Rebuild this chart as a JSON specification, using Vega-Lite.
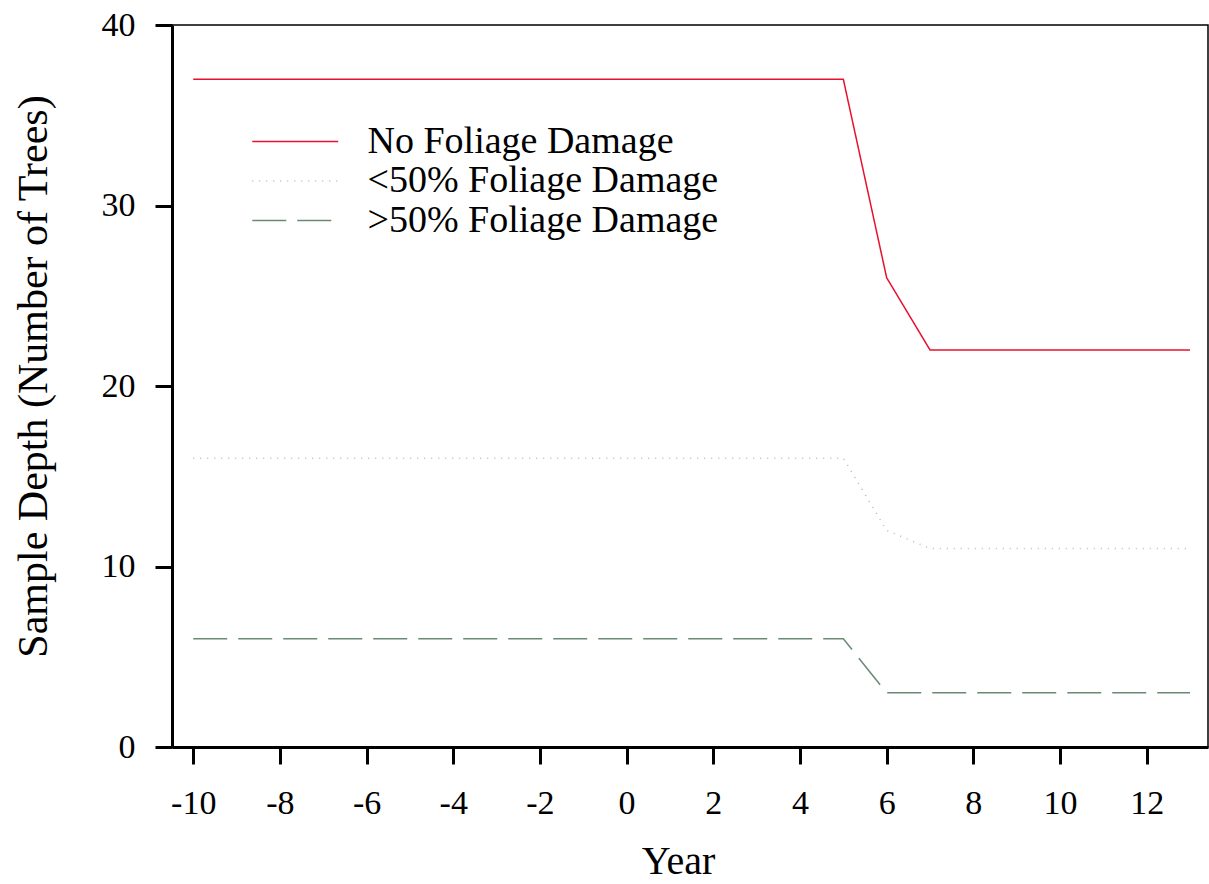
{
  "$schema": "https://vega.github.io/schema/vega-lite/v6.json",
  "width": 1036,
  "height": 722,
  "autosize": {"type": "none"},
  "padding": {"left": 172, "top": 25, "right": 1, "bottom": 137},
  "config": {
    "font": "Liberation Serif",
    "view": {"stroke": "#000000", "strokeWidth": 1.5},
    "background": "#ffffff"
  },
  "datasets": {
    "series": [
      {"year": -10, "group": "No Foliage Damage", "trees": 37},
      {"year": -9, "group": "No Foliage Damage", "trees": 37},
      {"year": -8, "group": "No Foliage Damage", "trees": 37},
      {"year": -7, "group": "No Foliage Damage", "trees": 37},
      {"year": -6, "group": "No Foliage Damage", "trees": 37},
      {"year": -5, "group": "No Foliage Damage", "trees": 37},
      {"year": -4, "group": "No Foliage Damage", "trees": 37},
      {"year": -3, "group": "No Foliage Damage", "trees": 37},
      {"year": -2, "group": "No Foliage Damage", "trees": 37},
      {"year": -1, "group": "No Foliage Damage", "trees": 37},
      {"year": 0, "group": "No Foliage Damage", "trees": 37},
      {"year": 1, "group": "No Foliage Damage", "trees": 37},
      {"year": 2, "group": "No Foliage Damage", "trees": 37},
      {"year": 3, "group": "No Foliage Damage", "trees": 37},
      {"year": 4, "group": "No Foliage Damage", "trees": 37},
      {"year": 5, "group": "No Foliage Damage", "trees": 37},
      {"year": 6, "group": "No Foliage Damage", "trees": 26},
      {"year": 7, "group": "No Foliage Damage", "trees": 22},
      {"year": 8, "group": "No Foliage Damage", "trees": 22},
      {"year": 9, "group": "No Foliage Damage", "trees": 22},
      {"year": 10, "group": "No Foliage Damage", "trees": 22},
      {"year": 11, "group": "No Foliage Damage", "trees": 22},
      {"year": 12, "group": "No Foliage Damage", "trees": 22},
      {"year": 13, "group": "No Foliage Damage", "trees": 22},
      {"year": -10, "group": "<50% Foliage Damage", "trees": 16},
      {"year": -9, "group": "<50% Foliage Damage", "trees": 16},
      {"year": -8, "group": "<50% Foliage Damage", "trees": 16},
      {"year": -7, "group": "<50% Foliage Damage", "trees": 16},
      {"year": -6, "group": "<50% Foliage Damage", "trees": 16},
      {"year": -5, "group": "<50% Foliage Damage", "trees": 16},
      {"year": -4, "group": "<50% Foliage Damage", "trees": 16},
      {"year": -3, "group": "<50% Foliage Damage", "trees": 16},
      {"year": -2, "group": "<50% Foliage Damage", "trees": 16},
      {"year": -1, "group": "<50% Foliage Damage", "trees": 16},
      {"year": 0, "group": "<50% Foliage Damage", "trees": 16},
      {"year": 1, "group": "<50% Foliage Damage", "trees": 16},
      {"year": 2, "group": "<50% Foliage Damage", "trees": 16},
      {"year": 3, "group": "<50% Foliage Damage", "trees": 16},
      {"year": 4, "group": "<50% Foliage Damage", "trees": 16},
      {"year": 5, "group": "<50% Foliage Damage", "trees": 16},
      {"year": 6, "group": "<50% Foliage Damage", "trees": 12},
      {"year": 7, "group": "<50% Foliage Damage", "trees": 11},
      {"year": 8, "group": "<50% Foliage Damage", "trees": 11},
      {"year": 9, "group": "<50% Foliage Damage", "trees": 11},
      {"year": 10, "group": "<50% Foliage Damage", "trees": 11},
      {"year": 11, "group": "<50% Foliage Damage", "trees": 11},
      {"year": 12, "group": "<50% Foliage Damage", "trees": 11},
      {"year": 13, "group": "<50% Foliage Damage", "trees": 11},
      {"year": -10, "group": ">50% Foliage Damage", "trees": 6},
      {"year": -9, "group": ">50% Foliage Damage", "trees": 6},
      {"year": -8, "group": ">50% Foliage Damage", "trees": 6},
      {"year": -7, "group": ">50% Foliage Damage", "trees": 6},
      {"year": -6, "group": ">50% Foliage Damage", "trees": 6},
      {"year": -5, "group": ">50% Foliage Damage", "trees": 6},
      {"year": -4, "group": ">50% Foliage Damage", "trees": 6},
      {"year": -3, "group": ">50% Foliage Damage", "trees": 6},
      {"year": -2, "group": ">50% Foliage Damage", "trees": 6},
      {"year": -1, "group": ">50% Foliage Damage", "trees": 6},
      {"year": 0, "group": ">50% Foliage Damage", "trees": 6},
      {"year": 1, "group": ">50% Foliage Damage", "trees": 6},
      {"year": 2, "group": ">50% Foliage Damage", "trees": 6},
      {"year": 3, "group": ">50% Foliage Damage", "trees": 6},
      {"year": 4, "group": ">50% Foliage Damage", "trees": 6},
      {"year": 5, "group": ">50% Foliage Damage", "trees": 6},
      {"year": 6, "group": ">50% Foliage Damage", "trees": 3},
      {"year": 7, "group": ">50% Foliage Damage", "trees": 3},
      {"year": 8, "group": ">50% Foliage Damage", "trees": 3},
      {"year": 9, "group": ">50% Foliage Damage", "trees": 3},
      {"year": 10, "group": ">50% Foliage Damage", "trees": 3},
      {"year": 11, "group": ">50% Foliage Damage", "trees": 3},
      {"year": 12, "group": ">50% Foliage Damage", "trees": 3},
      {"year": 13, "group": ">50% Foliage Damage", "trees": 3}
    ]
  },
  "layer": [
    {
      "data": {"name": "series"},
      "mark": {"type": "line", "strokeWidth": 1.5, "strokeCap": "butt"},
      "encoding": {
        "x": {
          "field": "year",
          "type": "quantitative",
          "scale": {"domain": [-10.49, 13.415], "nice": false, "zero": false},
          "axis": {
            "title": "Year",
            "values": [-10, -8, -6, -4, -2, 0, 2, 4, 6, 8, 10, 12],
            "labelExpr": "toString(datum.value)",
            "grid": false,
            "domainColor": "#000000",
            "domainWidth": 3,
            "tickColor": "#000000",
            "tickWidth": 3,
            "tickSize": 17,
            "labelFont": "Liberation Serif",
            "labelFontSize": 34,
            "labelColor": "#000000",
            "labelPadding": 22,
            "labelFlush": false,
            "titleFont": "Liberation Serif",
            "titleFontSize": 40,
            "titleFontWeight": "normal",
            "titleColor": "#000000",
            "titleBaseline": "alphabetic",
            "titleAlign": "center",
            "titleX": 506,
            "titleY": 126
          }
        },
        "y": {
          "field": "trees",
          "type": "quantitative",
          "scale": {"domain": [0, 40], "nice": false, "zero": true},
          "axis": {
            "title": "Sample Depth (Number of Trees)",
            "values": [0, 10, 20, 30, 40],
            "grid": false,
            "domainColor": "#000000",
            "domainWidth": 3,
            "tickColor": "#000000",
            "tickWidth": 3,
            "tickSize": 17,
            "labelFont": "Liberation Serif",
            "labelFontSize": 34,
            "labelColor": "#000000",
            "labelPadding": 20,
            "labelFlush": false,
            "titleFont": "Liberation Serif",
            "titleFontSize": 42,
            "titleFontWeight": "normal",
            "titleColor": "#000000",
            "titleBaseline": "middle",
            "titleAlign": "center",
            "titleAngle": -90,
            "titleX": -139,
            "titleY": 351
          }
        },
        "color": {
          "field": "group",
          "type": "nominal",
          "scale": {
            "domain": ["No Foliage Damage", "<50% Foliage Damage", ">50% Foliage Damage"],
            "range": ["#e8112d", "#b4b4de", "#6b8a74"]
          },
          "legend": {
            "title": null,
            "orient": "none",
            "legendX": 104.25,
            "legendY": 97.5,
            "padding": 0,
            "symbolType": "M-4,0H4",
            "symbolSize": 462,
            "symbolStrokeWidth": 1.5,
            "labelFont": "Liberation Serif",
            "labelFontSize": 38,
            "labelColor": "#000000",
            "labelOffset": 53.25,
            "labelLimit": 600,
            "rowPadding": 1.5
          }
        },
        "strokeDash": {
          "field": "group",
          "type": "nominal",
          "scale": {
            "domain": ["No Foliage Damage", "<50% Foliage Damage", ">50% Foliage Damage"],
            "range": [[1, 0], [1, 6], [34, 11]]
          },
          "legend": {
            "title": null,
            "orient": "none",
            "legendX": 104.25,
            "legendY": 97.5,
            "padding": 0,
            "symbolType": "M-4,0H4",
            "symbolSize": 462,
            "symbolStrokeWidth": 1.5,
            "labelFont": "Liberation Serif",
            "labelFontSize": 38,
            "labelColor": "#000000",
            "labelOffset": 53.25,
            "labelLimit": 600,
            "rowPadding": 1.5
          }
        }
      }
    },
    {
      "mark": {"type": "rule", "color": "#000000", "strokeWidth": 3},
      "encoding": {"y": {"datum": 40}}
    }
  ]
}
